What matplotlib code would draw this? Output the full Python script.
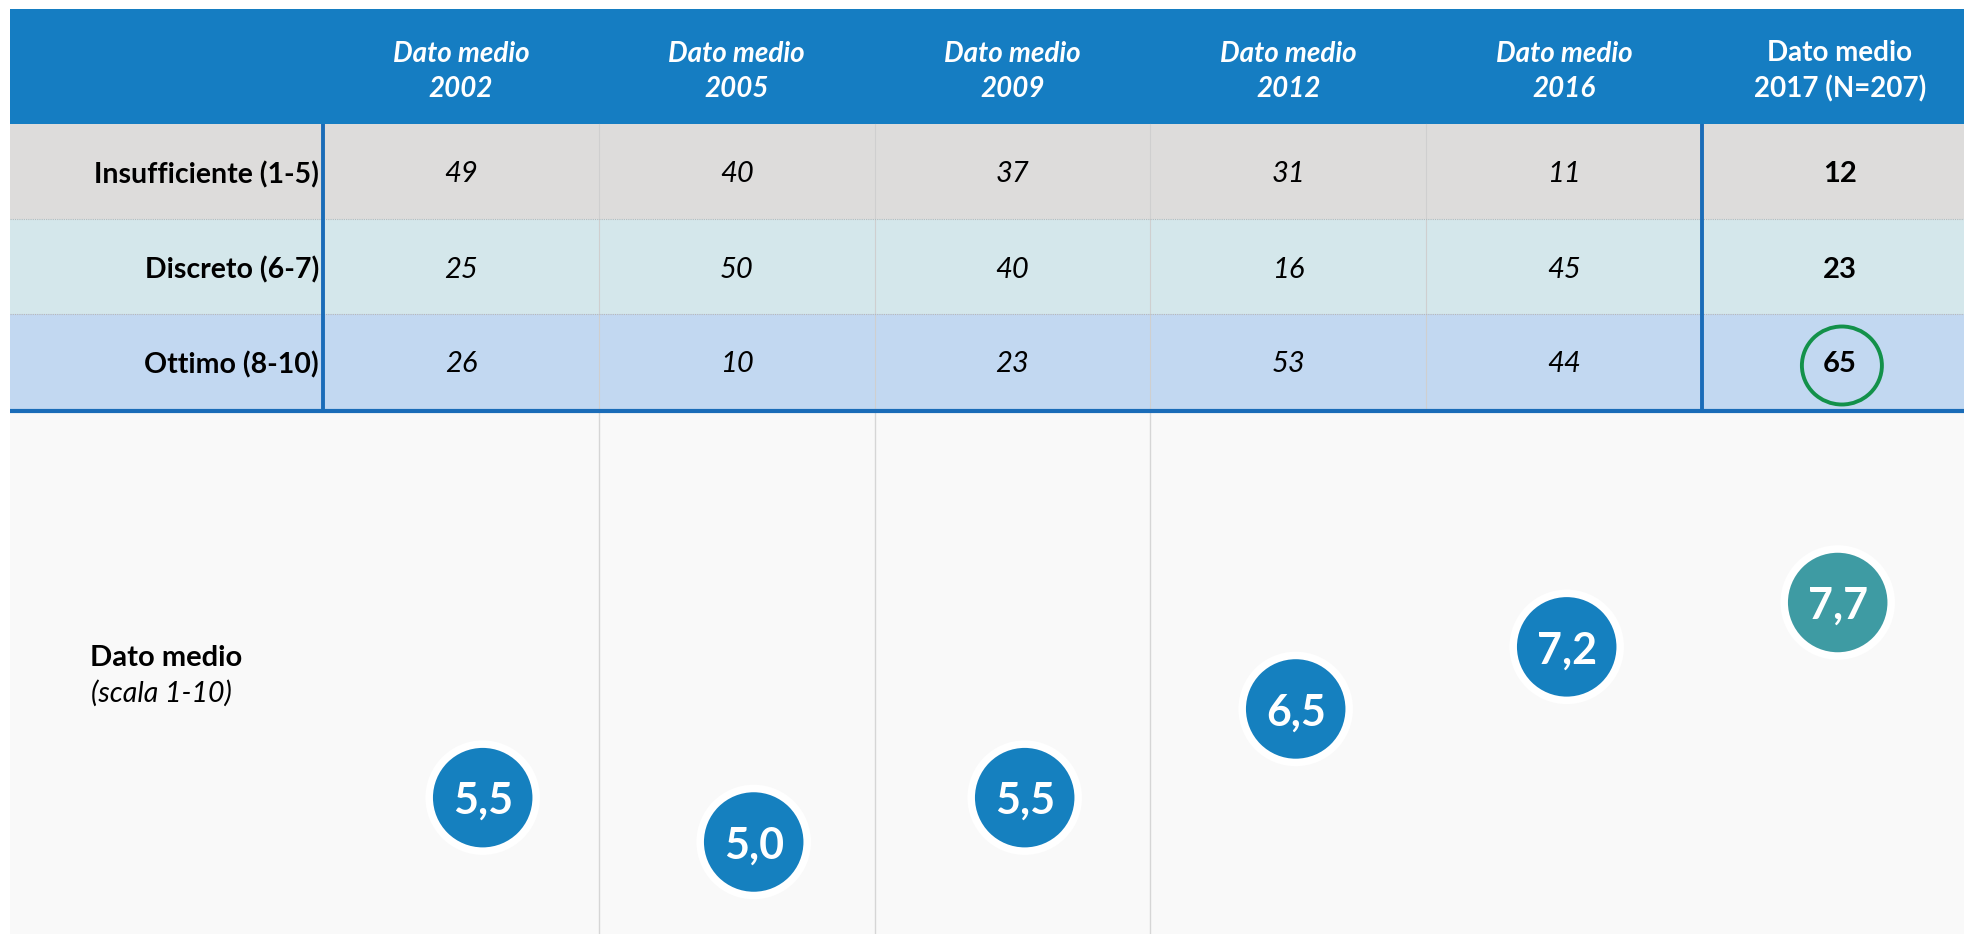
import matplotlib
matplotlib.use("Agg")
import matplotlib.pyplot as plt
from matplotlib.patches import Rectangle, Ellipse

# ---------------- data ----------------
columns = ["Dato medio\n2002", "Dato medio\n2005", "Dato medio\n2009",
           "Dato medio\n2012", "Dato medio\n2016", "Dato medio\n2017 (N=207)"]
categories = ["Insufficiente (1-5)", "Discreto (6-7)", "Ottimo (8-10)"]
insufficiente = [49, 40, 37, 31, 11, 12]
discreto = [25, 50, 40, 16, 45, 23]
ottimo = [26, 10, 23, 53, 44, 65]
dato_medio = [5.5, 5.0, 5.5, 6.5, 7.2, 7.7]
row_values = [insufficiente, discreto, ottimo]

# ---------------- style / layout ----------------
FONT = "Lato"
W, H = 1965, 934
DPI = 100
LEFT = 10
TOP = 9
HEADER_BOTTOM = 124
ROW_H = 95
LABEL_RIGHT = 323
COL_W = 275.8
TABLE_BOTTOM = HEADER_BOTTOM + ROW_H * len(categories)
HEADER_BLUE = "#157dc2"
ROW_COLORS = ["#dddcdb", "#d4e7eb", "#c2d8f1"]
LINE_BLUE = "#1a6cb8"
LOWER_BG = "#f9f9f9"
CIRCLE_BLUE = "#1580bf"
CIRCLE_TEAL = "#3e9ba3"
GREEN = "#13914a"

fig = plt.figure(figsize=(W / DPI, H / DPI), dpi=DPI)
fig.patch.set_facecolor("white")

ax = fig.add_axes([0, 0, 1, 1])
ax.set_xlim(0, W)
ax.set_ylim(H, 0)
ax.axis("off")

ncol = len(columns)

def col_left(j):
    return LABEL_RIGHT + COL_W * j

def col_center(j):
    return LABEL_RIGHT + COL_W * (j + 0.5)

# header
ax.add_patch(Rectangle((LEFT, TOP), W - LEFT, HEADER_BOTTOM - TOP,
                       facecolor=HEADER_BLUE, edgecolor="none", zorder=1))
for j, col in enumerate(columns):
    last = j == ncol - 1
    ax.text(col_center(j), (TOP + HEADER_BOTTOM) / 2 + 5, col, ha="center", va="center",
            color="white", fontsize=20, fontweight="bold",
            fontstyle="normal" if last else "italic", family=FONT,
            linespacing=1.42, zorder=5)

# rows
for i, (cat, vals) in enumerate(zip(categories, row_values)):
    y0 = HEADER_BOTTOM + ROW_H * i
    ax.add_patch(Rectangle((LEFT, y0), W - LEFT, ROW_H,
                           facecolor=ROW_COLORS[i], edgecolor="none", zorder=1))
    yc = y0 + ROW_H / 2 + 3
    ax.text(LABEL_RIGHT - 4, yc, cat, ha="right", va="center", color="black",
            fontsize=20.5, fontweight="bold", family=FONT, zorder=5)
    for j, v in enumerate(vals):
        last = j == ncol - 1
        ax.text(col_center(j), yc, str(v), ha="center", va="center", color="black",
                fontsize=21, fontweight="bold" if last else "normal",
                fontstyle="normal" if last else "italic", family=FONT, zorder=5)
    if i > 0:
        ax.plot([LEFT, W], [y0, y0], color="#b8b8b8", lw=0.8,
                linestyle=(0, (1, 1)), zorder=3)

# column grid lines inside rows
for j in range(1, ncol - 1):
    x = col_left(j)
    ax.plot([x, x], [HEADER_BOTTOM, TABLE_BOTTOM], color="#cfcfcf", lw=0.8, zorder=2)

# blue separators
for x in [LABEL_RIGHT, col_left(ncol - 1)]:
    ax.plot([x, x], [HEADER_BOTTOM, TABLE_BOTTOM], color=LINE_BLUE, lw=2.8,
            zorder=4, solid_capstyle="butt")

# lower background
ax.add_patch(Rectangle((LEFT, TABLE_BOTTOM), W - LEFT, H - TABLE_BOTTOM,
                       facecolor=LOWER_BG, edgecolor="none", zorder=0.5))
for j in range(1, 4):
    x = col_left(j)
    ax.plot([x, x], [TABLE_BOTTOM, H], color="#d6d6d6", lw=1.0, zorder=1)

# thick bottom line of table
ax.plot([LEFT, W], [TABLE_BOTTOM + 2, TABLE_BOTTOM + 2], color=LINE_BLUE, lw=3.0,
        zorder=4, solid_capstyle="butt")

# green highlight around the 2017 "Ottimo" value
hl_row = 2
hl_col = ncol - 1
ax.add_patch(Ellipse((col_center(hl_col) + 2, HEADER_BOTTOM + ROW_H * (hl_row + 0.5) + 4),
                     width=80, height=78, facecolor="none", edgecolor=GREEN,
                     lw=2.8, zorder=6))

# left label of lower area
ax.text(LEFT + 80, 666, "Dato medio", ha="left", va="baseline", color="black",
        fontsize=21, fontweight="bold", family=FONT, zorder=5)
ax.text(LEFT + 81, 702, "(scala 1-10)", ha="left", va="baseline", color="black",
        fontsize=20.5, fontstyle="italic", family=FONT, zorder=5)

# ---------------- dot axis ----------------
X0_PX = 482.7
DX_PX = 271.0
V0_PX = 842.0
PX_PER_UNIT = 88.7
ax2 = fig.add_axes([0, 0, 1, (H - TABLE_BOTTOM - 4) / H])
ax2.set_xlim(-X0_PX / DX_PX, (W - X0_PX) / DX_PX)
ax2.set_ylim(5 - (H - V0_PX) / PX_PER_UNIT, 5 + (V0_PX - TABLE_BOTTOM - 4) / PX_PER_UNIT)
ax2.axis("off")
ax2.patch.set_alpha(0)

xs = list(range(len(dato_medio)))
colors = [CIRCLE_BLUE] * (len(dato_medio) - 1) + [CIRCLE_TEAL]
ax2.scatter(xs, dato_medio, s=(107 * 72 / DPI) ** 2, c=colors, edgecolors="white",
            linewidths=7.5 * 72 / DPI, zorder=3, clip_on=False)
for x, v in zip(xs, dato_medio):
    ax2.text(x, v, f"{v:.1f}".replace(".", ","), ha="center", va="center_baseline",
             color="white", fontsize=31, fontweight="bold", family=FONT, zorder=4)

fig.savefig("out.png", dpi=DPI, facecolor="white")
